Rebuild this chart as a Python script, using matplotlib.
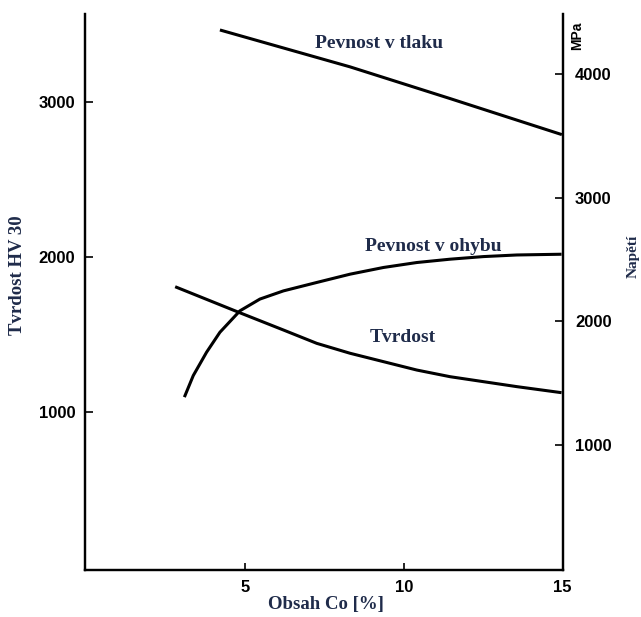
import matplotlib
matplotlib.use('Agg')
import matplotlib.pyplot as plt
import numpy as np

# data (x = Co content in %)
tvrdost_x = [2.80, 4.84, 6.21, 7.26, 8.31, 9.36, 10.41, 11.46, 12.51, 13.56, 14.97]
tvrdost_y = [1808, 1640, 1529, 1443, 1379, 1325, 1271, 1228, 1196, 1164, 1125]

ohyb_x = [3.09, 3.37, 3.79, 4.21, 4.84, 5.47, 6.21, 7.26, 8.31, 9.36, 10.41, 11.46, 12.51, 13.56, 14.97]
ohyb_y = [1389, 1563, 1752, 1913, 2086, 2181, 2247, 2315, 2382, 2436, 2476, 2503, 2524, 2537, 2543]

tlak_x = [4.21, 8.31, 11.46, 14.98]
tlak_y = [4354, 4056, 3800, 3509]

xticks = [5, 10, 15]
left_ticks = [1000, 2000, 3000]
right_ticks = [1000, 2000, 3000, 4000]

label_color = '#1f2b4a'
serif = ['Liberation Serif', 'DejaVu Serif']
sans = ['Liberation Sans', 'DejaVu Sans']

fig = plt.figure(figsize=(6.41, 6.17), dpi=100)
ax = fig.add_axes([85/641, 1 - 570/617, (562.5 - 85)/641, (570 - 14)/617])
ax2 = ax.twinx()

ax.plot(tvrdost_x, tvrdost_y, color='k', lw=2.2, solid_capstyle='butt')
ax2.plot(ohyb_x, ohyb_y, color='k', lw=2.2, solid_capstyle='butt')
ax2.plot(tlak_x, tlak_y, color='k', lw=2.2, solid_capstyle='butt')

ax.set_xlim(-0.04, 15)
ax.set_ylim(-18, 3566)
ax2.set_ylim(-7, 4483)

for a in (ax, ax2):
  a.spines['top'].set_visible(False)
  for s in ('left', 'right', 'bottom'):
    a.spines[s].set_linewidth(1.6)

ax.set_xticks(xticks)
ax.set_yticks(left_ticks)
ax2.set_yticks(right_ticks)
ax.tick_params(axis='y', direction='in', length=6, width=1.2, pad=7)
ax.tick_params(axis='x', direction='in', length=5, width=1.2, pad=7)
ax2.tick_params(axis='y', direction='in', length=6, width=1.2, pad=9)
for lab in ax.get_xticklabels() + ax.get_yticklabels() + ax2.get_yticklabels():
  lab.set_fontsize(12)
  lab.set_fontweight('bold')
  lab.set_family(sans)

# axis titles
fig.text(326/641, 1 - 605/617, 'Obsah Co [%]', family=serif, fontweight='bold',
  fontsize=13.5, color=label_color, ha='center', va='center')
fig.text(18/641, 1 - 275/617, 'Tvrdost HV 30', family=serif, fontweight='bold',
  fontsize=13.5, color=label_color, rotation=90, ha='center', va='center')
fig.text(633/641, 1 - 256/617, 'Napětí', family=serif, fontweight='bold',
  fontsize=11, color=label_color, rotation=90, ha='center', va='center')
fig.text(577/641, 1 - 36/617, 'MPa', family=sans, fontweight='bold', fontsize=10,
  rotation=90, ha='center', va='center')

# curve labels
fig.text(379/641, 1 - 44/617, 'Pevnost v tlaku', family=serif, fontweight='bold',
  fontsize=14, color=label_color, ha='center', va='center')
fig.text(433/641, 1 - 246/617, 'Pevnost v ohybu', family=serif, fontweight='bold',
  fontsize=14, color=label_color, ha='center', va='center')
fig.text(403/641, 1 - 338/617, 'Tvrdost', family=serif, fontweight='bold',
  fontsize=14, color=label_color, ha='center', va='center')

fig.savefig('out.png', dpi=100)
